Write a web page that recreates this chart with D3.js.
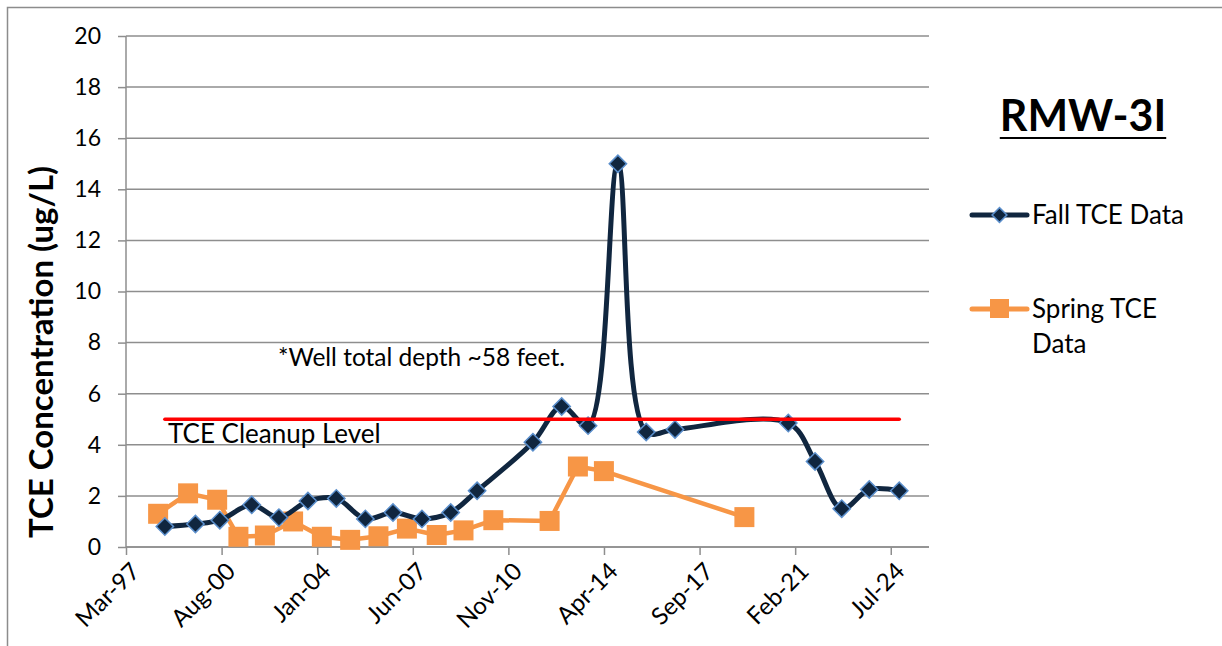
<!DOCTYPE html>
<html>
<head>
<meta charset="utf-8">
<script src="https://cdn.jsdelivr.net/npm/d3@7"></script>
<style>
  body { margin: 0; background: #fff; }
  text { font-family: Lato, "Open Sans", sans-serif; fill: #000; }
</style>
</head>
<body>
<div id="chart"></div>
<script>
// fall sampling
const fallDates = ['1998-08-01','1999-09-05','2000-07-20','2001-09-10','2002-09-01','2003-09-15','2004-09-20',
  '2005-10-05','2006-10-01','2007-10-15','2008-10-25','2009-10-05','2011-10-05','2012-10-15','2013-09-25',
  '2014-10-20','2015-10-25','2016-11-05','2020-11-25','2021-11-10','2022-10-25','2023-10-20','2024-11-15'];
const fallValues = [0.8, 0.9, 1.05, 1.65, 1.15, 1.8, 1.9, 1.1, 1.35, 1.1, 1.35, 2.2, 4.1, 5.5, 4.75,
  15.0, 4.5, 4.6, 4.85, 3.35, 1.5, 2.25, 2.2];

// spring sampling
const springDates = ['1998-05-05','1999-06-01','2000-06-15','2001-03-20','2002-03-01','2003-03-05','2004-03-15',
  '2005-03-20','2006-03-25','2007-04-01','2008-04-25','2009-04-10','2010-05-05','2012-05-10','2013-05-15',
  '2014-04-20','2019-05-01'];
const springValues = [1.3, 2.1, 1.85, 0.4, 0.45, 1.0, 0.4, 0.28, 0.42, 0.72, 0.47, 0.65, 1.05, 1.02, 3.15, 2.97, 1.17];

const cleanupLevel = 5;
const xTickLabels = ['Mar-97','Aug-00','Jan-04','Jun-07','Nov-10','Apr-14','Sep-17','Feb-21','Jul-24'];
const yTicks = [0, 2, 4, 6, 8, 10, 12, 14, 16, 18, 20];

const W = 1222, H = 646;
const plot = {left: 126, right: 929, top: 36, bottom: 547};

const parse = d3.timeParse('%Y-%m-%d');
const fall = fallDates.map((d, i) => ({date: parse(d), value: fallValues[i]}));
const spring = springDates.map((d, i) => ({date: parse(d), value: springValues[i]}));

// excel style axis: start 11 Mar 1997, major unit 1250 days
const axisStart = parse('1997-03-11');
const dayMs = 864e5;
const tickDates = xTickLabels.map((_, i) => new Date(axisStart.getTime() + i * 1250 * dayMs));
const axisEnd = new Date(axisStart.getTime() + 10500 * dayMs);

const x = d3.scaleTime().domain([axisStart, axisEnd]).range([plot.left, plot.right]);
const y = d3.scaleLinear().domain([0, 20]).range([plot.bottom, plot.top]);

const svg = d3.select('#chart').append('svg')
  .attr('width', W).attr('height', H);

// outer frame
svg.append('rect')
  .attr('x', 7.5).attr('y', 7.5).attr('width', W).attr('height', H)
  .attr('fill', 'none').attr('stroke', '#8c8c8c').attr('stroke-width', 1.5);

// gridlines
svg.append('g')
  .selectAll('line')
  .data(yTicks)
  .join('line')
    .attr('x1', plot.left).attr('x2', plot.right)
    .attr('y1', d => y(d)).attr('y2', d => y(d))
    .attr('stroke', '#8e8e8e').attr('stroke-width', 1.5);

// y axis
const yAxis = svg.append('g')
  .attr('transform', `translate(${plot.left},0)`)
  .call(d3.axisLeft(y).tickValues(yTicks).tickSize(8).tickPadding(17).tickFormat(d3.format('d')));
yAxis.selectAll('line, path').attr('stroke', '#8e8e8e').attr('stroke-width', 1.5);
yAxis.select('.domain').attr('d', `M0,${plot.top}V${plot.bottom}`);
yAxis.selectAll('text').attr('font-size', 23).attr('font-family', 'Lato, sans-serif').attr('fill', '#000');

// x axis
const xAxis = svg.append('g')
  .attr('transform', `translate(0,${plot.bottom})`)
  .call(d3.axisBottom(x).tickValues(tickDates).tickSize(8).tickFormat((d, i) => xTickLabels[i]));
xAxis.selectAll('line, path').attr('stroke', '#8e8e8e').attr('stroke-width', 1.5);
xAxis.select('.domain').attr('d', `M${plot.left},0H${plot.right}`);
xAxis.selectAll('text')
  .attr('font-size', 24).attr('font-family', 'Lato, sans-serif').attr('fill', '#000')
  .attr('text-anchor', 'end')
  .attr('dy', 0)
  .attr('transform', 'translate(7,18) rotate(-45)');

// y title
svg.append('text')
  .attr('transform', `translate(53,352) rotate(-90)`)
  .attr('text-anchor', 'middle')
  .attr('font-size', 33).attr('font-weight', 'bold')
  .text('TCE Concentration (ug/L)');

// spring series (straight)
svg.append('path')
  .datum(spring)
  .attr('fill', 'none').attr('stroke', '#f79646').attr('stroke-width', 4.5)
  .attr('stroke-linejoin', 'round')
  .attr('d', d3.line().x(d => x(d.date)).y(d => y(d.value)));

svg.append('g')
  .selectAll('rect')
  .data(spring)
  .join('rect')
    .attr('x', d => x(d.date) - 10).attr('y', d => y(d.value) - 10)
    .attr('width', 20).attr('height', 20)
    .attr('fill', '#f79646');

// fall series (smoothed)
svg.append('path')
  .datum(fall)
  .attr('fill', 'none').attr('stroke', '#10263f').attr('stroke-width', 5)
  .attr('stroke-linejoin', 'round')
  .attr('d', d3.line().x(d => x(d.date)).y(d => y(d.value)).curve(d3.curveCatmullRom.alpha(0.5)));

svg.append('g')
  .selectAll('path')
  .data(fall)
  .join('path')
    .attr('transform', d => `translate(${x(d.date)},${y(d.value)}) rotate(45)`)
    .attr('d', d3.symbol().type(d3.symbolSquare).size(150))
    .attr('fill', '#10263f').attr('stroke', '#5b8fcc').attr('stroke-width', 1.5);

// cleanup level line
svg.append('line')
  .attr('x1', x(fall[0].date)).attr('x2', x(fall[fall.length - 1].date))
  .attr('y1', y(cleanupLevel)).attr('y2', y(cleanupLevel))
  .attr('stroke', '#ff0000').attr('stroke-width', 3.5).attr('stroke-linecap', 'round');

svg.append('text')
  .attr('x', 168).attr('y', y(cleanupLevel) + 24)
  .attr('font-size', 26)
  .text('TCE Cleanup Level');

svg.append('text')
  .attr('x', 278).attr('y', 366)
  .attr('font-size', 24.5)
  .text('*Well total depth ~58 feet.');

// title
const title = svg.append('text')
  .attr('x', 1083).attr('y', 131)
  .attr('text-anchor', 'middle')
  .attr('font-size', 43).attr('font-weight', 'bold')
  .attr('font-family', 'Lato, sans-serif')
  .text('RMW-3I');
const tb = title.node().getBBox();
svg.append('line')
  .attr('x1', tb.x).attr('x2', tb.x + tb.width)
  .attr('y1', 138).attr('y2', 138)
  .attr('stroke', '#000').attr('stroke-width', 2);

// legend
const legend = svg.append('g');
legend.append('line')
  .attr('x1', 972).attr('x2', 1027).attr('y1', 215).attr('y2', 215)
  .attr('stroke', '#10263f').attr('stroke-width', 5).attr('stroke-linecap', 'round');
legend.append('path')
  .attr('transform', 'translate(999.5,215) rotate(45)')
  .attr('d', d3.symbol().type(d3.symbolSquare).size(110))
  .attr('fill', '#10263f').attr('stroke', '#5b8fcc').attr('stroke-width', 1.5);
legend.append('text')
  .attr('x', 1032).attr('y', 224).attr('font-size', 26)
  .text('Fall TCE Data');

legend.append('line')
  .attr('x1', 972).attr('x2', 1027).attr('y1', 309).attr('y2', 309)
  .attr('stroke', '#f79646').attr('stroke-width', 5).attr('stroke-linecap', 'round');
legend.append('rect')
  .attr('x', 990).attr('y', 299).attr('width', 19).attr('height', 19)
  .attr('fill', '#f79646');
legend.append('text')
  .attr('x', 1032).attr('y', 318).attr('font-size', 26)
  .text('Spring TCE');
legend.append('text')
  .attr('x', 1032).attr('y', 353).attr('font-size', 26)
  .text('Data');
</script>
</body>
</html>
